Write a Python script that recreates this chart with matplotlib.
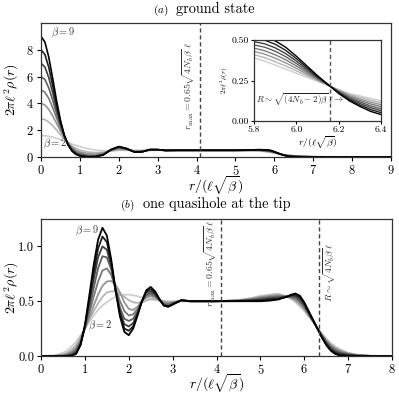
import numpy as np
import matplotlib
matplotlib.use('Agg')
import matplotlib.pyplot as plt

plt.rcParams['mathtext.fontset'] = 'cm'
plt.rcParams['font.family'] = ['cmr10', 'DejaVu Serif']
plt.rcParams['axes.formatter.use_mathtext'] = True

BETAS = [2, 3, 4, 5, 6, 7, 8, 9]

# ---- panel (a): ground state, r grid and one density curve per beta ----
R_A = [0.0, 0.1, 0.2, 0.3, 0.4, 0.5, 0.6, 0.7, 0.8, 0.9, 1.0,
       1.2, 1.4, 1.6, 1.8, 2.0, 2.2, 2.4, 2.6, 2.8, 3.0, 3.2,
       3.5, 4.0, 4.5, 5.0, 5.3, 5.6,
       5.8, 5.85, 5.9, 5.95, 6.0, 6.05, 6.1, 6.15, 6.2, 6.25, 6.3, 6.35, 6.4,
       6.5, 6.7, 7.0, 7.5, 8.0, 9.0]

RHO_A_B2 = [1.6, 1.59, 1.545, 1.48, 1.39, 1.29, 1.19, 1.08, 0.97, 0.87, 0.78,
            0.62, 0.52, 0.47, 0.47, 0.49, 0.5, 0.5, 0.5, 0.5, 0.5, 0.5,
            0.5, 0.5, 0.5, 0.5, 0.49, 0.45,
            0.39, 0.37, 0.345, 0.32, 0.295, 0.27, 0.245, 0.22, 0.195, 0.17, 0.155, 0.14, 0.125,
            0.10, 0.065, 0.03, 0.008, 0.002, 0.0]
RHO_A_B3 = [2.85, 2.79, 2.61, 2.34, 2.01, 1.66, 1.34, 1.05, 0.81, 0.64, 0.51,
            0.37, 0.33, 0.36, 0.45, 0.53, 0.53, 0.47, 0.47, 0.5, 0.51, 0.5,
            0.5, 0.5, 0.5, 0.5, 0.495, 0.47,
            0.41, 0.391, 0.366, 0.339, 0.31, 0.28, 0.25, 0.221, 0.191, 0.164, 0.146, 0.129, 0.113,
            0.088, 0.055, 0.024, 0.006, 0.001, 0.0]
RHO_A_B4 = [4.0, 3.88, 3.55, 3.07, 2.51, 1.94, 1.43, 1.02, 0.71, 0.50, 0.37,
            0.25, 0.22, 0.3, 0.48, 0.6, 0.55, 0.44, 0.44, 0.51, 0.52, 0.5,
            0.5, 0.5, 0.5, 0.5, 0.5, 0.49,
            0.43, 0.413, 0.388, 0.359, 0.325, 0.29, 0.255, 0.221, 0.188, 0.157, 0.136, 0.117, 0.101,
            0.077, 0.046, 0.019, 0.004, 0.001, 0.0]
RHO_A_B5 = [5.0, 4.83, 4.37, 3.68, 2.92, 2.16, 1.51, 1.0, 0.65, 0.41, 0.27,
            0.14, 0.12, 0.24, 0.52, 0.66, 0.57, 0.41, 0.42, 0.53, 0.53, 0.49,
            0.5, 0.5, 0.5, 0.5, 0.5, 0.51,
            0.45, 0.434, 0.409, 0.378, 0.34, 0.30, 0.26, 0.222, 0.184, 0.151, 0.127, 0.106, 0.089,
            0.066, 0.037, 0.014, 0.003, 0.0, 0.0]
RHO_A_B6 = [6.0, 5.78, 5.15, 4.25, 3.26, 2.32, 1.54, 0.96, 0.57, 0.33, 0.19,
            0.07, 0.07, 0.2, 0.53, 0.7, 0.59, 0.39, 0.41, 0.54, 0.54, 0.49,
            0.5, 0.5, 0.5, 0.5, 0.505, 0.52,
            0.47, 0.456, 0.431, 0.397, 0.355, 0.31, 0.265, 0.223, 0.181, 0.144, 0.118, 0.094, 0.076,
            0.055, 0.028, 0.01, 0.002, 0.0, 0.0]
RHO_A_B7 = [7.0, 6.71, 5.92, 4.8, 3.58, 2.47, 1.57, 0.92, 0.5, 0.26, 0.13,
            0.04, 0.04, 0.17, 0.54, 0.74, 0.61, 0.38, 0.4, 0.55, 0.54, 0.49,
            0.5, 0.5, 0.5, 0.5, 0.505, 0.53,
            0.49, 0.477, 0.452, 0.416, 0.37, 0.32, 0.27, 0.224, 0.177, 0.138, 0.109, 0.083, 0.064,
            0.045, 0.02, 0.006, 0.001, 0.0, 0.0]
RHO_A_B8 = [8.0, 7.65, 6.68, 5.34, 3.9, 2.6, 1.59, 0.89, 0.46, 0.22, 0.1,
            0.02, 0.03, 0.16, 0.55, 0.76, 0.63, 0.38, 0.39, 0.55, 0.55, 0.49,
            0.5, 0.5, 0.5, 0.5, 0.51, 0.54,
            0.51, 0.499, 0.474, 0.436, 0.385, 0.33, 0.275, 0.224, 0.174, 0.131, 0.099, 0.071, 0.052,
            0.035, 0.013, 0.003, 0.0, 0.0, 0.0]
RHO_A_B9 = [9.0, 8.58, 7.44, 5.86, 4.2, 2.74, 1.62, 0.87, 0.43, 0.19, 0.08,
            0.01, 0.02, 0.15, 0.56, 0.78, 0.64, 0.37, 0.38, 0.56, 0.56, 0.49,
            0.5, 0.5, 0.5, 0.5, 0.51, 0.55,
            0.53, 0.52, 0.495, 0.455, 0.40, 0.34, 0.28, 0.225, 0.17, 0.125, 0.09, 0.06, 0.04,
            0.025, 0.007, 0.001, 0.0, 0.0, 0.0]

# ---- panel (b): one quasihole at the tip ----
R_B = [0.0, 0.3, 0.5, 0.6, 0.7, 0.8, 0.9, 1.0, 1.1, 1.2, 1.3, 1.4, 1.5, 1.6,
       1.7, 1.8, 1.9, 2.0, 2.1, 2.2, 2.3, 2.4, 2.5, 2.6, 2.7, 2.8, 2.9, 3.0,
       3.2, 3.4,
       3.7, 4.0, 4.5, 4.8, 5.0, 5.2, 5.4, 5.6, 5.7, 5.8, 5.9, 6.0, 6.1, 6.2,
       6.3, 6.4, 6.5, 6.6, 6.7, 6.8, 7.0, 7.2, 7.5, 8.0]

RHO_B_B2 = [0.0, 0.005, 0.03, 0.05, 0.09, 0.13, 0.19, 0.25, 0.31, 0.37, 0.42, 0.46, 0.49, 0.52,
            0.54, 0.555, 0.56, 0.56, 0.555, 0.545, 0.535, 0.525, 0.515, 0.51, 0.505, 0.5, 0.5, 0.5,
            0.5, 0.5,
            0.5, 0.5, 0.51, 0.53, 0.55, 0.56, 0.57, 0.545, 0.52, 0.49, 0.45, 0.41, 0.36, 0.31,
            0.255, 0.205, 0.16, 0.12, 0.09, 0.065, 0.03, 0.012, 0.002, 0.0]
RHO_B_B3 = [0.0, 0.002, 0.015, 0.03, 0.06, 0.1, 0.17, 0.25, 0.33, 0.41, 0.48, 0.54, 0.58, 0.59,
            0.59, 0.565, 0.54, 0.51, 0.49, 0.485, 0.49, 0.505, 0.52, 0.52, 0.51, 0.5, 0.495, 0.495,
            0.5, 0.5,
            0.5, 0.5, 0.509, 0.526, 0.543, 0.553, 0.563, 0.544, 0.526, 0.501, 0.464, 0.421, 0.367, 0.313,
            0.254, 0.2, 0.152, 0.11, 0.08, 0.057, 0.026, 0.01, 0.002, 0.0]
RHO_B_B4 = [0.0, 0.001, 0.008, 0.02, 0.04, 0.08, 0.15, 0.25, 0.35, 0.46, 0.56, 0.64, 0.68, 0.685,
            0.65, 0.58, 0.49, 0.43, 0.42, 0.45, 0.5, 0.535, 0.545, 0.535, 0.51, 0.49, 0.485, 0.49,
            0.505, 0.5,
            0.5, 0.5, 0.507, 0.521, 0.536, 0.546, 0.555, 0.544, 0.531, 0.513, 0.479, 0.433, 0.374, 0.316,
            0.254, 0.196, 0.143, 0.1, 0.07, 0.048, 0.022, 0.009, 0.001, 0.0]
RHO_B_B5 = [0.0, 0.0, 0.004, 0.012, 0.03, 0.06, 0.13, 0.25, 0.39, 0.54, 0.68, 0.78, 0.80, 0.74,
            0.62, 0.5, 0.41, 0.37, 0.38, 0.43, 0.5, 0.55, 0.56, 0.545, 0.51, 0.48, 0.475, 0.485,
            0.505, 0.5,
            0.5, 0.5, 0.506, 0.517, 0.529, 0.539, 0.546, 0.543, 0.537, 0.524, 0.493, 0.444, 0.381, 0.319,
            0.253, 0.19, 0.134, 0.09, 0.06, 0.04, 0.018, 0.007, 0.001, 0.0]
RHO_B_B6 = [0.0, 0.0, 0.002, 0.006, 0.018, 0.045, 0.12, 0.26, 0.43, 0.62, 0.8, 0.91, 0.9, 0.79,
            0.6, 0.44, 0.34, 0.32, 0.34, 0.41, 0.5, 0.56, 0.575, 0.555, 0.51, 0.47, 0.465, 0.48,
            0.505, 0.5,
            0.5, 0.5, 0.504, 0.513, 0.521, 0.531, 0.538, 0.542, 0.543, 0.536, 0.507, 0.456, 0.389, 0.321,
            0.252, 0.185, 0.126, 0.08, 0.05, 0.031, 0.014, 0.005, 0.001, 0.0]
RHO_B_B7 = [0.0, 0.0, 0.001, 0.003, 0.01, 0.035, 0.11, 0.27, 0.48, 0.7, 0.9, 1.0, 0.97, 0.82,
            0.6, 0.41, 0.29, 0.27, 0.3, 0.39, 0.5, 0.58, 0.59, 0.565, 0.515, 0.465, 0.455, 0.475,
            0.51, 0.5,
            0.5, 0.5, 0.503, 0.509, 0.514, 0.524, 0.529, 0.541, 0.549, 0.547, 0.521, 0.467, 0.396, 0.324,
            0.251, 0.18, 0.117, 0.07, 0.04, 0.023, 0.009, 0.003, 0.0, 0.0]
RHO_B_B8 = [0.0, 0.0, 0.0, 0.001, 0.005, 0.025, 0.1, 0.27, 0.51, 0.76, 0.98, 1.09, 1.04, 0.85,
            0.6, 0.38, 0.25, 0.23, 0.27, 0.38, 0.5, 0.59, 0.61, 0.575, 0.515, 0.46, 0.45, 0.47,
            0.51, 0.5,
            0.5, 0.5, 0.501, 0.504, 0.507, 0.517, 0.521, 0.541, 0.554, 0.559, 0.536, 0.479, 0.403, 0.327,
            0.251, 0.175, 0.109, 0.06, 0.03, 0.014, 0.005, 0.001, 0.0, 0.0]
RHO_B_B9 = [0.0, 0.0, 0.0, 0.0, 0.003, 0.02, 0.1, 0.28, 0.55, 0.83, 1.06, 1.17, 1.10, 0.88,
            0.6, 0.36, 0.22, 0.19, 0.25, 0.37, 0.5, 0.6, 0.63, 0.59, 0.52, 0.46, 0.45, 0.47,
            0.51, 0.5,
            0.5, 0.5, 0.5, 0.5, 0.5, 0.505, 0.515, 0.54, 0.56, 0.57, 0.55, 0.49, 0.41, 0.33,
            0.25, 0.17, 0.10, 0.05, 0.02, 0.006, 0.001, 0.0, 0.0, 0.0]

RHO_A = [RHO_A_B2, RHO_A_B3, RHO_A_B4, RHO_A_B5, RHO_A_B6, RHO_A_B7, RHO_A_B8, RHO_A_B9]
RHO_B = [RHO_B_B2, RHO_B_B3, RHO_B_B4, RHO_B_B5, RHO_B_B6, RHO_B_B7, RHO_B_B8, RHO_B_B9]

R_MAX = 4.1          # 0.65 sqrt(4 N_b beta)
R_EDGE_A = 6.16      # sqrt((4N_b - 2) beta)
R_EDGE_B = 6.33      # sqrt(4 N_b beta)

COLORS = plt.cm.Greys(np.linspace(0.3, 1.0, len(BETAS)))
XLABEL = r'$r/(\ell\sqrt{\beta})$'
YLABEL = r'$2\pi\ell^2\rho(r)$'


def style_axes(ax):
    for sp in ax.spines.values():
        sp.set_color('#333333')
        sp.set_linewidth(0.9)
    ax.tick_params(direction='out', length=3, width=0.8, labelsize=9, pad=2)


def label_axes(ax, xlab_y):
    ax.set_xlabel(XLABEL, fontsize=10)
    ax.set_ylabel(YLABEL, fontsize=10)
    ax.xaxis.set_label_coords(0.5, xlab_y)
    ax.yaxis.set_label_coords(-0.058, 0.5)


def draw_curves(ax, r, curves, lw=1.2):
    for rho, c in zip(curves, COLORS):
        ax.plot(r, rho, color=c, lw=lw)


fig = plt.figure(figsize=(3.99, 3.93), dpi=100)

# panel (a)
ax_a = fig.add_axes([0.1028, 0.6005, 0.8772, 0.341])
draw_curves(ax_a, R_A, RHO_A)
ax_a.axvline(R_MAX, color='#444444', ls='--', lw=1.0, dashes=(3, 2))
ax_a.set_xlim(0, 9)
ax_a.set_ylim(0, 10)
ax_a.set_xticks(range(10))
ax_a.set_yticks([0, 2, 4, 6, 8])
style_axes(ax_a)
label_axes(ax_a, -0.125)
ax_a.text(0.25, 9.25, r'$\beta=9$', fontsize=7.5, color='#333333', va='center')
ax_a.text(0.05, 0.95, r'$\beta=2$', fontsize=7.5, color='#333333', va='center')
ax_a.text(R_MAX - 0.08, 5.3, r'$r_{\max}=0.65\sqrt{4N_b\beta}\;\ell$', rotation=90,
          fontsize=7, ha='right', va='center', color='#333333')
ax_a.text(0.363, 1.075, r'$(a)$', transform=ax_a.transAxes, fontsize=8, ha='right')
ax_a.text(0.386, 1.075, 'ground state', transform=ax_a.transAxes, fontsize=10.3, ha='left')

# inset of panel (a)
ax_in = fig.add_axes([0.637, 0.692, 0.318, 0.206])
draw_curves(ax_in, R_A, RHO_A, lw=1.0)
ax_in.axvline(R_EDGE_A, color='#555555', ls='--', lw=1.0, dashes=(3, 2))
ax_in.set_xlim(5.8, 6.4)
ax_in.set_ylim(0, 0.5)
ax_in.set_xticks([5.8, 6.0, 6.2, 6.4])
ax_in.set_yticks([0.0, 0.25, 0.5])
ax_in.set_yticklabels(['0.00', '0.25', '0.50'])
ax_in.set_xticklabels(['5.8', '6.0', '6.2', '6.4'])
style_axes(ax_in)
ax_in.tick_params(labelsize=7, length=2, pad=1.5)
ax_in.set_xlabel(XLABEL, fontsize=7, labelpad=0)
ax_in.set_ylabel(YLABEL, fontsize=5, labelpad=1)
ax_in.text(5.81, 0.13, r'$R\sim\sqrt{(4N_b-2)\beta}\,\ell\rightarrow$', fontsize=6.5,
           ha='left', va='center', color='#222222')

# panel (b)
ax_b = fig.add_axes([0.1028, 0.0941, 0.8797, 0.3486])
draw_curves(ax_b, R_B, RHO_B, lw=1.3)
ax_b.axvline(R_MAX, color='#444444', ls='--', lw=1.0, dashes=(3, 2))
ax_b.axvline(R_EDGE_B, color='#444444', ls='--', lw=1.0, dashes=(3, 2))
ax_b.set_xlim(0, 8)
ax_b.set_ylim(0, 1.25)
ax_b.set_xticks(range(9))
ax_b.set_yticks([0.0, 0.5, 1.0])
ax_b.set_yticklabels(['0.0', '0.5', '1.0'])
style_axes(ax_b)
label_axes(ax_b, -0.115)
ax_b.text(1.32, 1.14, r'$\beta=9$', fontsize=7.5, ha='right', va='center', color='#333333')
ax_b.text(1.08, 0.275, r'$\beta=2$', fontsize=7.5, ha='left', va='center', color='#333333')
ax_b.text(R_MAX - 0.05, 1.24, r'$r_{\max}=0.65\sqrt{4N_b\beta}\,\ell$', rotation=90,
          fontsize=7, ha='right', va='top', color='#333333')
ax_b.text(R_EDGE_B + 0.05, 1.04, r'$R\sim\sqrt{4N_b\beta}\,\ell$', rotation=90,
          fontsize=7, ha='left', va='top', color='#333333')
ax_b.text(0.265, 1.08, r'$(b)$', transform=ax_b.transAxes, fontsize=8, ha='right')
ax_b.text(0.291, 1.08, 'one quasihole at the tip', transform=ax_b.transAxes,
          fontsize=10.3, ha='left')

fig.savefig('out.png', dpi=100)
